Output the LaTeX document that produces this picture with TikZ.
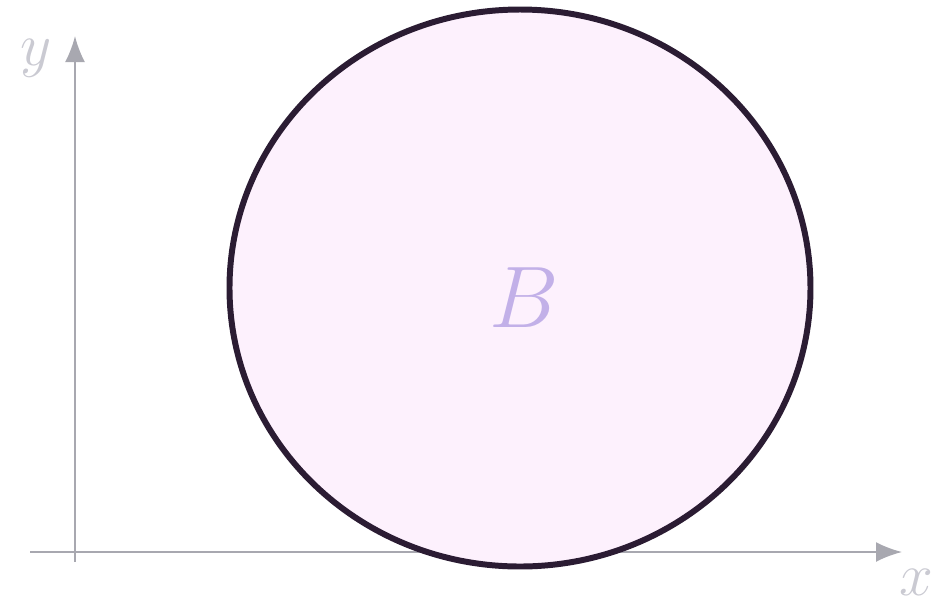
\documentclass[tikz,border=0pt]{standalone}
\usetikzlibrary{arrows.meta,positioning,calc}
\usepackage{xcolor}
\usepackage{amsmath}
\definecolor{axisgray}{HTML}{A8A8B0}
\definecolor{labelgray}{HTML}{CACAD2}
\definecolor{rim}{HTML}{2B1C33}
\definecolor{ballpink}{HTML}{FDF1FD}
\definecolor{ballname}{HTML}{C2B0E8}
\tikzset{
  axis/.style={-{Latex[length=2.6mm,width=2mm]}, line width=0.6pt, draw=axisgray},
  axislabel/.style={text=labelgray, font=\fontsize{19}{22}\selectfont, inner sep=0pt},
  ball/.style={draw=rim, line width=1.7pt, fill=ballpink},
  ballname/.style={text=ballname, font=\fontsize{24}{28}\selectfont, inner sep=0pt}
}
\begin{document}
\begin{tikzpicture}
  \useasboundingbox (0,0) rectangle (9.46,6.02);
  % axes
  \coordinate (origin) at (0.75,0.50);
  \coordinate (xstart) at (0.30,0.50);
  \coordinate (xend) at (9.02,0.50);
  \coordinate (ystart) at (0.75,0.40);
  \coordinate (yend) at (0.75,5.66);
  \draw[axis] (xstart) -- (xend);
  \draw[axis] (ystart) -- (yend);
  \node[axislabel] (ylabel) at (0.36,5.44) {$y$};
  \node[axislabel] (xlabel) at (9.16,0.20) {$x$};
  % the ball
  \coordinate (centre) at (5.20,3.14);
  \draw[ball] (centre) ellipse [x radius=2.905cm, y radius=2.785cm];
  \node[ballname] (B) at (5.24,3.04) {$B$};
\end{tikzpicture}
\end{document}
